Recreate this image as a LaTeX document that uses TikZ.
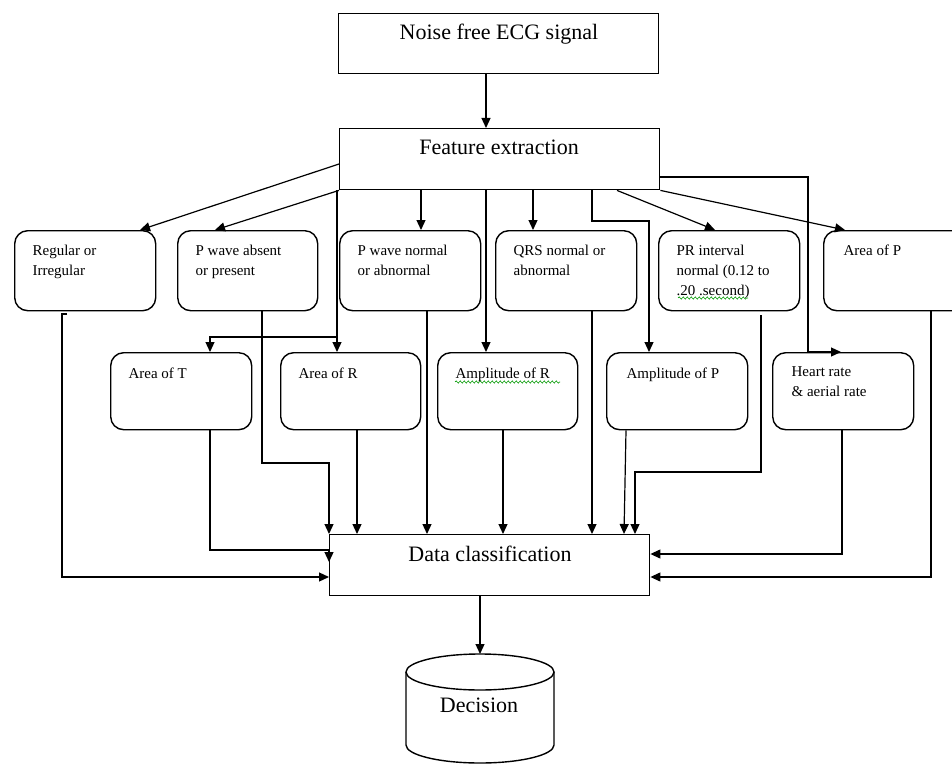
\documentclass[tikz,border=0pt]{standalone}
\usepackage{fontspec}
\setmainfont{Liberation Serif}
\usetikzlibrary{arrows.meta,decorations.pathmorphing}
\begin{document}
\begin{tikzpicture}[x=1pt,y=-1pt,
  line width=1.2pt,
  arr/.style={-{Triangle[length=10pt,width=9pt]}},
  sbox/.style={draw, rectangle, line width=1.4pt, inner sep=0pt, anchor=north west},
  rbox/.style={draw, rectangle, rounded corners=13pt, line width=1.4pt, inner sep=0pt, anchor=north west},
  big/.style={font=\fontsize{22}{26}\selectfont, anchor=base, inner sep=0pt},
  small/.style={font=\fontsize{15}{20}\selectfont, align=left, anchor=north west, inner sep=0pt},
  squig/.style={draw=green!60!black, line width=0.6pt, decorate, decoration={snake, segment length=4pt, amplitude=1.1pt}}
]
\fill[white] (0,0) rectangle (952,765);
\useasboundingbox (0,0) rectangle (952,765);

% main boxes
\node[sbox, minimum width=320, minimum height=60] (nf) at (338,13) {};
\node[big] (nft) at (499,40) {Noise free ECG signal};
\node[sbox, minimum width=320, minimum height=61] (fe) at (339,128) {};
\node[big] (fet) at (499,154) {Feature extraction};
\node[sbox, minimum width=320, minimum height=61] (dc) at (329,534) {};
\node[big] (dct) at (490,561) {Data classification};

% row 1
\node[rbox, minimum width=141, minimum height=80] (reg) at (14,230) {};
\node[rbox, minimum width=140, minimum height=80] (pabs) at (177,230) {};
\node[rbox, minimum width=141, minimum height=80] (pnorm) at (339,230) {};
\node[rbox, minimum width=141, minimum height=80] (qrs) at (495,230) {};
\node[rbox, minimum width=141, minimum height=80] (pr) at (658,230) {};
\node[rbox, minimum width=160, minimum height=80] (areaP) at (823,230) {};
\node[small] (regt) at (32,244.7) {Regular or\\Irregular};
\node[small] (pabst) at (195,244.7) {P wave absent\\or present};
\node[small] (pnormt) at (357,244.7) {P wave normal\\or abnormal};
\node[small] (qrst) at (513,244.7) {QRS normal or\\abnormal};
\node[small] (prt) at (676,244.7) {PR interval\\normal (0.12 to\\.20 .second)};
\node[small] (areaPt) at (843,244.7) {Area of P};

% row 2
\node[rbox, minimum width=141, minimum height=77] (areaT) at (110,352) {};
\node[rbox, minimum width=140, minimum height=77] (areaR) at (280,352) {};
\node[rbox, minimum width=140, minimum height=77] (ampR) at (437,352) {};
\node[rbox, minimum width=141, minimum height=77] (ampP) at (606,352) {};
\node[rbox, minimum width=141, minimum height=77] (hr) at (772,352) {};
\node[small] (areaTt) at (128,367.7) {Area of T};
\node[small] (areaRt) at (298,367.7) {Area of R};
\node[small] (ampRt) at (455,367.7) {Amplitude of R};
\node[small] (ampPt) at (626,367.7) {Amplitude of P};
\node[small] (hrt) at (791,365.7) {Heart rate\\\& aerial rate};

% squiggles
\draw[squig] (455,382) -- (560,382);
\draw[squig] (678,298) -- (748,298);

% decision cylinder
\coordinate (dectop) at (480,654);
\draw[line width=1.4pt] (480,672) ellipse [x radius=74, y radius=18];
\draw[line width=1.4pt] (406,672) -- (406,745) arc[start angle=180, end angle=360, x radius=74, y radius=-18] -- (554,672);
\node[big] (dec) at (479,712) {Decision};

% top connectors
\draw[arr] (486,0 |- nf.south) -- (486,0 |- fe.north);
\draw[arr] (fe.west |- 0,164) -- (140,0 |- reg.north);
\draw[arr] (fe.south west) -- (215,0 |- pabs.north);
\coordinate (jT) at (337,337);
\draw[arr] (337,0 |- fe.south) -- (jT) -| (210,0 |- areaT.north);
\draw[arr] (jT) -- (337,0 |- areaR.north);
\draw[arr] (421,0 |- fe.south) -- (421,0 |- pnorm.north);
\draw[arr] (486,0 |- fe.south) -- (486,0 |- ampR.north);
\draw[arr] (533,0 |- fe.south) -- (533,0 |- qrs.north);
\draw[arr] (592,0 |- fe.south) -- (592,221) -- (649,221) -- (649,0 |- ampP.north);
\draw[arr] (617,0 |- fe.south) -- (715,0 |- pr.north);
\draw[arr] (fe.south east) -- (845,0 |- areaP.north);
\draw[arr] (fe.east |- 0,177) -| (808,0 |- hr.north) -- (841,0 |- hr.north);

% bottom connectors
\draw[arr] (67,314) -- (62,314) -- (62,577) -- (dc.west |- 0,577);
\draw[arr] (262,0 |- pabs.south) -- (262,463) -| (dc.north west);
\draw[arr] (210,0 |- areaT.south) -- (210,550) -- (dc.west |- 0,550) -- (dc.west |- 0,562);
\draw[arr] (357,0 |- areaR.south) -- (357,0 |- dc.north);
\draw[arr] (427,0 |- pnorm.south) -- (427,0 |- dc.north);
\draw[arr] (503,0 |- ampR.south) -- (503,0 |- dc.north);
\draw[arr] (592,0 |- qrs.south) -- (592,0 |- dc.north);
\draw[arr] (626,0 |- ampP.south) -- (624,0 |- dc.north);
\draw[arr] (761,315) -- (761,472) -- (635,472) -- (635,0 |- dc.north);
\draw[arr] (842,0 |- hr.south) |- (dc.east |- 0,554);
\draw[arr] (931,0 |- areaP.south) |- (dc.east |- 0,577);
\draw[arr] (480,0 |- dc.south) -- (dectop);
\end{tikzpicture}
\end{document}
